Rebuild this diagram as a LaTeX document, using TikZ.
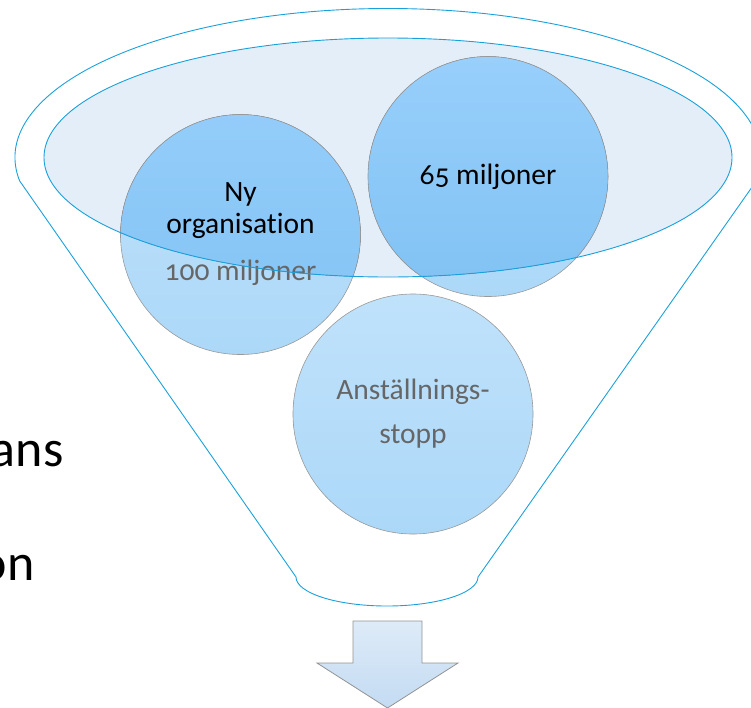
\documentclass[tikz,border=0pt]{standalone}
\usepackage{fontspec}
\setmainfont{Carlito}[Numbers=OldStyle,Ligatures=NoCommon]
\usepackage{xcolor}

\definecolor{rimblue}{HTML}{1AA1DC}
\definecolor{mouthfill}{HTML}{E4EEF9}
\definecolor{ballhi}{HTML}{C0E2FB}
\definecolor{balllo}{HTML}{ACD8F8}
\definecolor{ballinhi}{HTML}{9AD0FC}
\definecolor{ballinlo}{HTML}{80C2F3}
\definecolor{arrowhi}{HTML}{DEEBF8}
\definecolor{arrowlo}{HTML}{C3DBF2}
\definecolor{textgray}{HTML}{666666}

\begin{document}
\begin{tikzpicture}[x=1pt,y=1pt,
    rim/.style={draw=rimblue,line width=0.9pt},
    bubble/.style={circle,draw=gray!80,line width=0.6pt,minimum size=240,inner sep=0pt,align=center,
        top color=ballhi,bottom color=balllo,font=\fontsize{29.5}{32}\selectfont,
        path picture={\fill[top color=ballinhi,bottom color=ballinlo] (0) ellipse [x radius=344,y radius=119.5];}},
    plain bubble/.style={bubble,path picture={}},
    side text/.style={anchor=base east,font=\fontsize{52}{60}\selectfont}]

                \useasboundingbox (0,0) rectangle (751,-707);
                \coordinate (0) at (388,-157.5);
                \coordinate (5) at (478,-577);

                \draw[rim] (0) ++(189:373 and 149) arc[start angle=189,end angle=-9,x radius=373,y radius=149]
                    -- (5) arc[start angle=0,end angle=-180,x radius=91,y radius=29] -- cycle;
                \fill[mouthfill] (0) ellipse [x radius=344,y radius=119.5];

                \node[bubble] (1) at (240.5,-234.5) {Ny\\organisation\\[15pt]\textcolor{textgray}{100 miljoner}};
                \node[bubble] (2) at (488,-176.5) {65 miljoner};
                \node[plain bubble,text=textgray] (3) at (413,-414) {Anställnings-\\[12pt]stopp};

                \draw[rim] (0) ellipse [x radius=344,y radius=119.5];

                \node[side text] (6) at (67,-466) {ans};
                \node[side text] (7) at (38,-580) {on};

                \path[draw=gray!85,line width=0.8pt,top color=arrowhi,bottom color=arrowlo]
                    (353,-621) -- (422,-621) -- (422,-663) -- (458,-663) -- (387.5,-708)
                    -- (317,-663) -- (353,-663) -- cycle;
            \end{tikzpicture}
\end{document}
